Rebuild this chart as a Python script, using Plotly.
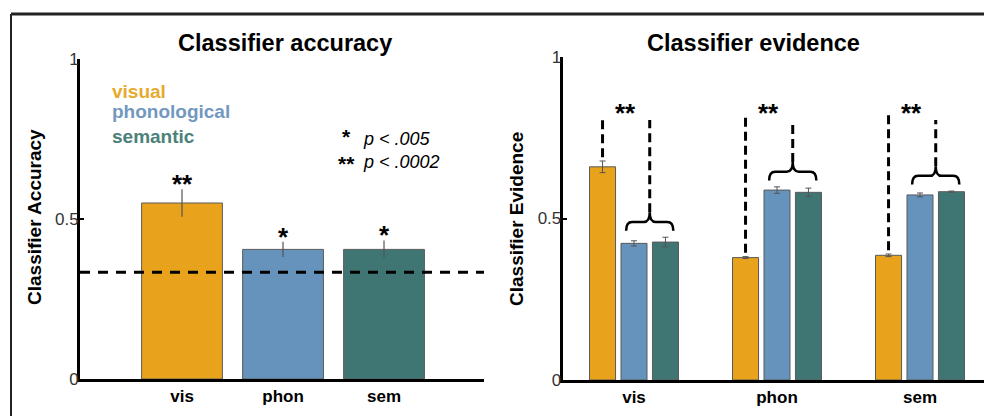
import numpy as np
import plotly.graph_objects as go

# ---------------- data ----------------
categories = ["vis", "phon", "sem"]
classifiers = ["visual", "phonological", "semantic"]
bar_colors = ["#E8A21C", "#6693BB", "#3F7674"]
label_colors = ["#E6AA2E", "#7298BF", "#4C807A"]

accuracy = [0.550, 0.405, 0.405]
accuracy_err = [0.043, 0.024, 0.028]
accuracy_sig = ["**", "*", "*"]
chance = 1 / 3

evidence_visual = [0.660, 0.379, 0.386]
evidence_phonological = [0.423, 0.588, 0.573]
evidence_semantic = [0.427, 0.581, 0.583]
evidence_visual_err = [0.018, 0.003, 0.004]
evidence_phonological_err = [0.008, 0.010, 0.006]
evidence_semantic_err = [0.015, 0.013, 0.002]
evidence_sig = ["**", "**", "**"]

p_stars = ["*", "**"]
p_texts = ["p < .005", "p < .0002"]

y_ticks = [0, 0.5, 1]
y_ticktext = ["0", "0.5", "1"]

# ---------------- geometry helpers ----------------
# the page body adds an 8px offset; lay the figure out in window pixels
OX, OY = 8, 8
W, H = 992 - OX, 416 - OY
FONT = "Liberation Sans, Arial, Helvetica, sans-serif"


def px(x):
    return (x - OX) / W


def py(y):
    return 1 - (y - OY) / H


fig = go.Figure()

# ---------------- left panel: accuracy ----------------
xi = np.arange(len(categories))
fig.add_trace(go.Bar(
    x=xi, y=accuracy, width=0.80,
    marker=dict(color=bar_colors, line=dict(color="#5a5a5a", width=1)),
    error_y=dict(type="data", array=accuracy_err, color="#555555", thickness=1.2, width=0),
    xaxis="x", yaxis="y", showlegend=False,
))

# ---------------- right panel: evidence ----------------
series = [evidence_visual, evidence_phonological, evidence_semantic]
series_err = [evidence_visual_err, evidence_phonological_err, evidence_semantic_err]
offsets = [-0.22, 0.0, 0.22]
for k in range(3):
    fig.add_trace(go.Bar(
        x=xi + offsets[k], y=series[k], width=0.182, name=classifiers[k],
        marker=dict(color=bar_colors[k], line=dict(color="#5a5a5a", width=1)),
        error_y=dict(type="data", array=series_err[k], color="#555555", thickness=1, width=3),
        xaxis="x2", yaxis="y2", showlegend=False,
    ))

shapes = []
annotations = []

# chance line
shapes.append(dict(type="line", xref="x domain", x0=0, x1=1, yref="y", y0=chance, y1=chance,
                   line=dict(color="black", width=3, dash="10px,8px")))

# significance stars (accuracy)
for i in range(3):
    annotations.append(dict(x=i, y=accuracy[i] + accuracy_err[i], xref="x", yref="y",
                            text="<b>%s</b>" % accuracy_sig[i], showarrow=False,
                            xanchor="center", yanchor="bottom", yshift=-12,
                            font=dict(size=26, color="black", family=FONT)))

# brackets on evidence panel
line1_top, line2_top = 0.82, 0.805
for g in range(3):
    xo = g + offsets[0]
    yo = evidence_visual[g] + evidence_visual_err[g] + 0.012
    shapes.append(dict(type="line", xref="x2", yref="y2", x0=xo, x1=xo, y0=yo, y1=line1_top,
                       line=dict(color="black", width=3, dash="9px,5px")))
    xm = g + (offsets[1] + offsets[2]) / 2
    half = 0.165
    r = 0.042
    yb = max(evidence_phonological[g] + evidence_phonological_err[g],
             evidence_semantic[g] + evidence_semantic_err[g]) + 0.02
    ys = yb + 0.027
    yt = yb + 0.057
    xl, xr = xm - half, xm + half
    path = ("M %f,%f Q %f,%f %f,%f L %f,%f Q %f,%f %f,%f Q %f,%f %f,%f L %f,%f Q %f,%f %f,%f" % (
        xl, yb, xl, ys, xl + r, ys, xm - r, ys, xm, ys, xm, yt,
        xm, ys, xm + r, ys, xr - r, ys, xr, ys, xr, yb))
    shapes.append(dict(type="path", xref="x2", yref="y2", path=path,
                       line=dict(color="black", width=2.5)))
    shapes.append(dict(type="line", xref="x2", yref="y2", x0=xm, x1=xm, y0=yt, y1=line2_top,
                       line=dict(color="black", width=3, dash="9px,5px")))
    annotations.append(dict(x=(xo + xm) / 2 - 0.005, y=0.835, xref="x2", yref="y2",
                            text="<b>%s</b>" % evidence_sig[g], showarrow=False,
                            xanchor="center", yanchor="middle", yshift=-3,
                            font=dict(size=26, color="black", family=FONT)))

# titles
annotations.append(dict(x=px(285), y=py(43), xref="paper", yref="paper",
                        xanchor="center", yanchor="middle",
                        text="<b>Classifier accuracy</b>", showarrow=False,
                        font=dict(size=23.5, color="black", family=FONT)))
annotations.append(dict(x=px(753), y=py(43), xref="paper", yref="paper",
                        xanchor="center", yanchor="middle",
                        text="<b>Classifier evidence</b>", showarrow=False,
                        font=dict(size=23.5, color="black", family=FONT)))

# axis titles
annotations.append(dict(x=px(35), y=py(217), xref="paper", yref="paper", textangle=-90,
                        xanchor="center", yanchor="middle",
                        text="<b>Classifier Accuracy</b>", showarrow=False,
                        font=dict(size=19, color="black", family=FONT)))
annotations.append(dict(x=px(516), y=py(219), xref="paper", yref="paper", textangle=-90,
                        xanchor="center", yanchor="middle",
                        text="<b>Classifier Evidence</b>", showarrow=False,
                        font=dict(size=19, color="black", family=FONT)))

# legend text
legend_y = [91.5, 111, 136]
for k in range(3):
    annotations.append(dict(x=px(110), y=py(legend_y[k]), xref="paper", yref="paper",
                            xanchor="left", yanchor="middle",
                            text="<b>%s</b>" % classifiers[k], showarrow=False,
                            font=dict(size=19, color=label_colors[k], family=FONT)))

# p-value key: one block for the stars, one block for the p texts
star_block = "<br>".join("<b>%s</b>" % s for s in p_stars)
annotations.append(dict(x=px(346), y=py(150.5), xref="paper", yref="paper",
                        xanchor="center", yanchor="middle", align="center", yshift=1,
                        text=star_block, showarrow=False,
                        font=dict(size=21, color="black", family=FONT)))
text_block = "<br>".join("<i>%s</i>" % t for t in p_texts)
annotations.append(dict(x=px(361), y=py(150.5), xref="paper", yref="paper",
                        xanchor="left", yanchor="middle", align="left",
                        text=text_block, showarrow=False,
                        font=dict(size=18, color="black", family=FONT)))

# outer frame (partial)
shapes.append(dict(type="line", xref="paper", yref="paper", x0=px(11), x1=1.02, y0=py(14), y1=py(14),
                   line=dict(color="#222222", width=3)))
shapes.append(dict(type="line", xref="paper", yref="paper", x0=px(11), x1=px(11), y0=py(14), y1=-0.02,
                   line=dict(color="#222222", width=2)))

axis_common = dict(showgrid=False, zeroline=False, showline=True, linecolor="black", linewidth=3,
                   automargin=False)
ytick_common = dict(tickmode="array", tickvals=y_ticks, ticktext=y_ticktext, ticks="inside",
                    ticklen=4, tickwidth=2, tickcolor="black", ticklabelstandoff=-5,
                    tickfont=dict(size=17, color="#333333", family=FONT), range=[0, 1])
xtick_labels = ["<b>%s</b>" % c for c in categories]

fig.update_layout(
    template="none",
    width=W, height=H, margin=dict(l=0, r=0, t=0, b=0, pad=0, autoexpand=False),
    paper_bgcolor="white", plot_bgcolor="white",
    barmode="overlay", showlegend=False,
    font=dict(family=FONT, color="black"),
    xaxis=dict(domain=[px(80), px(484)], range=[-1.01, 2.99], anchor="y",
               tickmode="array", tickvals=list(xi), ticktext=xtick_labels, ticks="",
               tickfont=dict(size=17, color="black", family=FONT), **axis_common),
    yaxis=dict(domain=[py(379), py(59)], anchor="x", **ytick_common, **axis_common),
    xaxis2=dict(domain=[px(562.7), 1.0], range=[-0.4986, 2.5035], anchor="y2",
                tickmode="array", tickvals=list(xi), ticktext=xtick_labels, ticks="",
                tickfont=dict(size=17, color="black", family=FONT), **axis_common),
    yaxis2=dict(domain=[py(380), py(57)], anchor="x2", **ytick_common, **axis_common),
    shapes=shapes, annotations=annotations,
)

fig.write_html("out.html")
